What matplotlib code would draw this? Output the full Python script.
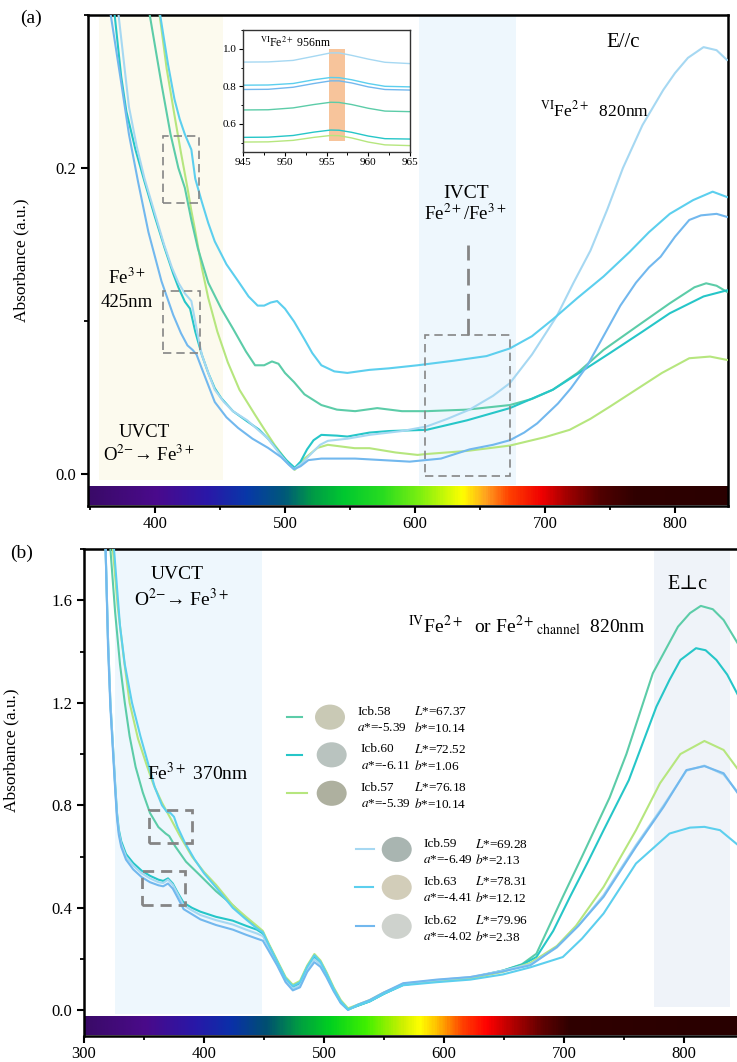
import numpy as np
import matplotlib
matplotlib.use("Agg")
import matplotlib.pyplot as plt
from matplotlib.colors import LinearSegmentedColormap
from matplotlib.patches import Ellipse, Rectangle
from matplotlib.ticker import MultipleLocator, FormatStrFormatter

plt.rcParams['font.family'] = ['Liberation Serif', 'DejaVu Serif']
plt.rcParams['mathtext.fontset'] = 'stix'

# ---------------------------------------------------------------- samples
samples = ['Icb.58', 'Icb.60', 'Icb.57', 'Icb.59', 'Icb.63', 'Icb.62']
lab_L = [67.37, 72.52, 76.18, 69.28, 78.31, 79.96]
lab_a = [-5.39, -6.11, -5.39, -6.49, -4.41, -4.02]
lab_b = [10.14, 1.06, 10.14, 2.13, 12.12, 2.38]
line_colors = {'Icb.58': '#5ccca8', 'Icb.60': '#26c6c8', 'Icb.57': '#b6e67e',
               'Icb.59': '#a6d8f2', 'Icb.63': '#5ccfee', 'Icb.62': '#72b8ee'}
swatch_colors = {'Icb.58': '#c9c9b5', 'Icb.60': '#b9c3bf', 'Icb.57': '#aeb09f',
                 'Icb.59': '#a9b5b1', 'Icb.63': '#d2cdb9', 'Icb.62': '#ced2cd'}

# ---------------------------------------------------------------- (a) E//c spectra
a_wl_62 = [360, 366, 374, 380, 387, 395, 405, 414, 420, 425, 429, 432, 436, 441, 446, 455, 464, 475,
           487, 497, 503, 507, 512, 518, 528, 540, 554, 575, 596, 620, 642, 660, 673, 684, 694, 710,
           720, 732, 745, 758, 770, 780, 789, 800, 811, 820, 832, 840]
a_ab_62 = [0.35, 0.30, 0.256, 0.222, 0.191, 0.158, 0.126, 0.104, 0.092, 0.084, 0.081, 0.078, 0.069,
           0.058, 0.047, 0.037, 0.030, 0.023, 0.017, 0.011, 0.006, 0.003, 0.005, 0.009, 0.010, 0.010,
           0.010, 0.009, 0.008, 0.010, 0.016, 0.019, 0.022, 0.027, 0.033, 0.046, 0.056, 0.070, 0.090,
           0.110, 0.125, 0.135, 0.142, 0.155, 0.166, 0.169, 0.170, 0.168]

a_wl_63 = [398, 404, 410, 415, 419, 423, 426, 428, 431, 436, 441, 446, 455, 464, 472, 479, 484, 489,
           494, 500, 507, 515, 521, 528, 538, 548, 565, 580, 602, 630, 655, 673, 690, 706, 725, 745,
           765, 780, 796, 814, 829, 840]
a_ab_63 = [0.34, 0.30, 0.268, 0.245, 0.232, 0.222, 0.216, 0.212, 0.193, 0.178, 0.164, 0.152, 0.137,
           0.126, 0.116, 0.110, 0.110, 0.112, 0.113, 0.108, 0.0996, 0.088, 0.079, 0.071, 0.067, 0.066,
           0.068, 0.069, 0.071, 0.074, 0.077, 0.082, 0.090, 0.101, 0.115, 0.129, 0.145, 0.158, 0.170,
           0.179, 0.1845, 0.181]

a_wl_58 = [390, 396, 405, 412, 418, 423, 428, 433, 441, 451, 460, 470, 477, 484, 490, 495, 500, 507,
           515, 528, 540, 554, 571, 590, 609, 640, 673, 690, 706, 725, 745, 770, 796, 815, 824, 832, 840]
a_ab_58 = [0.34, 0.30, 0.255, 0.222, 0.20, 0.187, 0.166, 0.1475, 0.125, 0.108, 0.095, 0.080, 0.071,
           0.071, 0.0735, 0.072, 0.066, 0.060, 0.052, 0.045, 0.042, 0.041, 0.043, 0.041, 0.041, 0.042,
           0.045, 0.049, 0.055, 0.066, 0.081, 0.096, 0.1115, 0.122, 0.1246, 0.123, 0.119]

a_wl_60 = [365, 369, 374, 378, 385, 392, 400, 407.5, 414, 418, 423, 427, 431, 436, 441, 446, 451, 460,
           471.5, 480, 487, 495, 501, 507.5, 512, 517, 522, 528, 540, 548, 565, 580, 609, 640, 673,
           706, 730, 750, 775, 796, 822, 840]
a_ab_60 = [0.36, 0.30, 0.26, 0.237, 0.212, 0.191, 0.168, 0.1475, 0.131, 0.122, 0.1126, 0.108, 0.093,
           0.078, 0.066, 0.056, 0.0495, 0.041, 0.034, 0.029, 0.023, 0.015, 0.009, 0.004, 0.008, 0.016,
           0.022, 0.0255, 0.025, 0.0244, 0.027, 0.028, 0.0288, 0.035, 0.043, 0.055, 0.068, 0.079,
           0.093, 0.105, 0.116, 0.12]

a_wl_59 = [366, 372, 380, 386, 392, 400, 407, 413, 418, 423, 428, 432, 436, 441, 446, 453, 460, 471,
           487, 497, 503, 507, 513, 520, 527, 533, 548, 565, 590, 609, 625, 642, 660, 673, 690, 709,
           722, 735, 748, 760, 775, 791, 800, 810, 822, 832, 840]
a_ab_59 = [0.36, 0.30, 0.24, 0.214, 0.193, 0.17, 0.15, 0.135, 0.125, 0.118, 0.113, 0.095, 0.078,
           0.066, 0.055, 0.047, 0.041, 0.035, 0.023, 0.012, 0.006, 0.003, 0.007, 0.013, 0.019, 0.0216,
           0.023, 0.0255, 0.028, 0.031, 0.036, 0.042, 0.051, 0.0593, 0.078, 0.103, 0.125, 0.146, 0.173,
           0.20, 0.228, 0.251, 0.262, 0.272, 0.279, 0.277, 0.2706]

a_wl_57 = [398, 403.6, 409, 415, 420, 425, 428, 430.5, 436, 441, 448, 456, 465, 477, 485, 492, 500,
           507.5, 515, 525, 533, 553.6, 565, 585, 602, 609, 640, 673, 700, 719, 735, 750, 770, 790,
           811, 827, 840]
a_ab_57 = [0.34, 0.30, 0.265, 0.2346, 0.21, 0.187, 0.172, 0.161, 0.135, 0.115, 0.093, 0.073, 0.055,
           0.0386, 0.028, 0.019, 0.010, 0.0026, 0.010, 0.017, 0.019, 0.0168, 0.0168, 0.014, 0.0124,
           0.013, 0.015, 0.0185, 0.024, 0.0288, 0.036, 0.044, 0.055, 0.066, 0.0756, 0.0767, 0.0745]

# ---------------------------------------------------------------- (a) inset, 945-965 nm
inset_wl = [945, 948, 951, 953.5, 955.5, 956.5, 958, 960, 962, 965]
inset_ab = {
    'Icb.59': [0.929, 0.930, 0.938, 0.960, 0.978, 0.978, 0.965, 0.945, 0.928, 0.921],
    'Icb.63': [0.806, 0.807, 0.815, 0.835, 0.847, 0.846, 0.835, 0.815, 0.800, 0.797],
    'Icb.62': [0.783, 0.784, 0.795, 0.815, 0.829, 0.829, 0.818, 0.797, 0.783, 0.780],
    'Icb.58': [0.674, 0.675, 0.685, 0.703, 0.715, 0.714, 0.703, 0.683, 0.668, 0.665],
    'Icb.60': [0.528, 0.529, 0.538, 0.556, 0.567, 0.566, 0.555, 0.535, 0.521, 0.519],
    'Icb.57': [0.503, 0.504, 0.512, 0.528, 0.538, 0.537, 0.525, 0.503, 0.488, 0.484],
}

# ---------------------------------------------------------------- (b) E⊥c spectra
b_wl_57 = [322, 324, 328, 333, 338, 345, 352, 358, 365, 372, 380, 390, 400, 410, 424, 435, 444, 449,
           454, 461, 468, 474, 480, 486, 492, 497, 502, 508, 514, 520, 528, 538, 550, 566, 594, 622,
           649, 672, 694, 710, 733, 760, 780, 797, 817, 833, 845]
b_ab_57 = [2.0, 1.80, 1.58, 1.38, 1.20, 1.06, 0.96, 0.88, 0.81, 0.75, 0.68, 0.60, 0.54, 0.49, 0.41,
           0.365, 0.33, 0.31, 0.26, 0.195, 0.13, 0.10, 0.115, 0.175, 0.22, 0.195, 0.15, 0.09, 0.04,
           0.008, 0.022, 0.04, 0.07, 0.10, 0.115, 0.125, 0.15, 0.185, 0.251, 0.33, 0.482, 0.703,
           0.886, 1.0, 1.051, 1.016, 0.94]

b_wl_63 = [322, 325, 330, 334, 340, 347, 353, 359, 365, 369, 372, 375, 378, 384, 392, 400, 410, 424,
           435, 444, 449, 454, 461, 468, 474, 480, 486, 492, 497, 502, 508, 514, 520, 528, 538, 550,
           566, 594, 622, 649, 672, 699, 715, 733, 760, 788, 805, 817, 830, 845]
b_ab_63 = [2.1, 1.80, 1.50, 1.35, 1.20, 1.07, 0.97, 0.87, 0.80, 0.775, 0.77, 0.755, 0.715, 0.655,
           0.59, 0.535, 0.48, 0.40, 0.355, 0.32, 0.305, 0.255, 0.19, 0.125, 0.095, 0.11, 0.17, 0.215,
           0.19, 0.145, 0.085, 0.035, 0.004, 0.02, 0.035, 0.065, 0.098, 0.11, 0.12, 0.14, 0.168,
           0.208, 0.28, 0.378, 0.573, 0.69, 0.713, 0.716, 0.703, 0.645]

b_wl_58 = [319, 322, 326, 330, 334, 338, 343, 349, 355, 362, 368, 371, 376, 385, 396, 410, 424, 435,
           444, 449, 454, 461, 468, 474, 480, 486, 492, 497, 502, 508, 514, 520, 528, 538, 550, 566,
           594, 622, 649, 665, 677, 699, 715, 727, 738, 752, 774, 795, 805, 814, 824, 833, 845]
b_ab_58 = [2.1, 1.80, 1.55, 1.35, 1.20, 1.07, 0.95, 0.85, 0.77, 0.715, 0.69, 0.68, 0.64, 0.58, 0.53,
           0.465, 0.41, 0.36, 0.325, 0.305, 0.255, 0.19, 0.125, 0.093, 0.108, 0.17, 0.21, 0.19, 0.145,
           0.085, 0.035, 0.004, 0.018, 0.035, 0.065, 0.10, 0.115, 0.127, 0.155, 0.18, 0.221, 0.443,
           0.60, 0.72, 0.83, 1.0, 1.315, 1.497, 1.55, 1.578, 1.565, 1.523, 1.43]

b_wl_60 = [316, 318, 320, 322, 324.5, 326, 327.5, 329, 331, 335, 341, 348, 355, 362, 366, 370, 374,
           378, 383, 390, 397, 410, 424, 435, 444, 449, 454, 461, 468, 474, 480, 486, 492, 497, 502,
           508, 514, 520, 528, 538, 550, 566, 594, 622, 649, 665, 677, 691, 705, 720, 733, 754, 777,
           788, 797, 810, 818, 827, 836, 845]
b_ab_60 = [2.1, 1.80, 1.45, 1.20, 1.0, 0.88, 0.77, 0.705, 0.66, 0.61, 0.575, 0.545, 0.525, 0.51,
           0.505, 0.515, 0.495, 0.46, 0.42, 0.40, 0.385, 0.365, 0.35, 0.33, 0.315, 0.30, 0.255, 0.19,
           0.125, 0.09, 0.102, 0.165, 0.205, 0.185, 0.14, 0.082, 0.032, 0.003, 0.018, 0.035, 0.065,
           0.10, 0.115, 0.127, 0.155, 0.178, 0.208, 0.31, 0.443, 0.58, 0.703, 0.898, 1.185, 1.29,
           1.367, 1.413, 1.405, 1.367, 1.31, 1.23]

b_wl_lower = [316, 318, 320, 322, 324.5, 326, 327.5, 329, 331, 335, 341, 348, 355, 362, 366, 370,
              374, 378, 383, 390, 397, 410, 424, 435, 444, 449, 454, 461, 468, 474, 480, 486, 492,
              497, 502, 508, 514, 520, 528, 538, 550, 566, 594, 622, 649, 672, 694, 712, 733, 760,
              783, 802, 817, 833, 845]
b_ab_59 = [2.1, 1.80, 1.45, 1.20, 1.0, 0.87, 0.76, 0.695, 0.65, 0.60, 0.565, 0.535, 0.515, 0.50,
           0.497, 0.51, 0.49, 0.455, 0.41, 0.39, 0.372, 0.352, 0.335, 0.315, 0.30, 0.29, 0.245, 0.185,
           0.12, 0.085, 0.098, 0.16, 0.20, 0.18, 0.138, 0.08, 0.03, 0.002, 0.02, 0.038, 0.068, 0.104,
           0.118, 0.13, 0.155, 0.18, 0.245, 0.33, 0.45, 0.645, 0.80, 0.935, 0.955, 0.92, 0.85]
b_ab_62 = [2.1, 1.80, 1.42, 1.18, 0.98, 0.86, 0.75, 0.685, 0.638, 0.588, 0.55, 0.52, 0.50, 0.488,
           0.484, 0.495, 0.475, 0.44, 0.395, 0.375, 0.355, 0.333, 0.315, 0.295, 0.28, 0.272, 0.232,
           0.175, 0.11, 0.078, 0.09, 0.15, 0.188, 0.17, 0.13, 0.075, 0.028, 0.002, 0.022, 0.04, 0.07,
           0.106, 0.12, 0.13, 0.152, 0.176, 0.247, 0.33, 0.443, 0.638, 0.794, 0.9375, 0.953, 0.925,
           0.846]

# ---------------------------------------------------------------- spectrum strips
strip_a = [(348.5, '#3a0a68'), (400, '#4a0a8c'), (440, '#2a18a8'), (470, '#0838a8'),
           (500, '#005a78'), (520, '#009848'), (545, '#00c830'), (575, '#28dc20'),
           (605, '#80f010'), (637, '#ffff00'), (655, '#ffa020'), (673, '#ff4000'),
           (698, '#f00000'), (718, '#a00000'), (744, '#500000'), (770, '#300000'),
           (840.8, '#2a0000')]
strip_b = [(300, '#3a0a68'), (350, '#4a0a8a'), (392, '#2818a8'), (422, '#0a30a8'),
           (452, '#005070'), (480, '#00a040'), (505, '#00d020'), (535, '#40f000'),
           (566, '#d0f000'), (580, '#ffff00'), (594, '#ffc000'), (616, '#ff4000'),
           (636, '#ff0000'), (663, '#a00000'), (682, '#600000'), (705, '#300000'),
           (850, '#280000')]

W, H = 737, 1062
fig = plt.figure(figsize=(W / 100, H / 100), dpi=100)


def px_axes(left, top, right, bottom):
    return fig.add_axes([left / W, 1 - bottom / H, (right - left) / W, (bottom - top) / H])


def spectrum_strip(ax, stops, y0, y1):
    x0, x1 = stops[0][0], stops[-1][0]
    cmap = LinearSegmentedColormap.from_list(
        'strip', [((w - x0) / (x1 - x0), c) for w, c in stops])
    ax.imshow(np.linspace(0, 1, 600)[None, :], extent=[x0, x1, y0, y1], aspect='auto',
              cmap=cmap, zorder=1, interpolation='bilinear')


def style_axes(ax):
    for s in ax.spines.values():
        s.set_linewidth(1.8)
    ax.tick_params(which='major', direction='out', length=5, width=1.5, labelsize=12,
                   top=False, right=False)
    ax.tick_params(which='minor', direction='out', length=3, width=1.3,
                   top=False, right=False)
    ax.tick_params(axis='x', pad=2)


def dashed_box(ax, x0, x1, y0, y1, lw, dashes):
    ax.add_patch(Rectangle((x0, y0), x1 - x0, y1 - y0, fill=False, ec='#858585', lw=lw,
                           ls=(0, dashes), zorder=4))


# ================================================================ panel (a)
axa = px_axes(88, 15, 728, 506)
axa.set_xlim(348.5, 840.8)
axa.set_ylim(-0.021, 0.30)
axa.fill_between([357, 452], -0.004, 0.30, color='#fcfaee', lw=0, zorder=0)
axa.fill_between([603, 677.5], -0.007, 0.30, color='#eef7fd', lw=0, zorder=0)
spectrum_strip(axa, strip_a, -0.0205, -0.0085)

for name, wl, ab in [('Icb.57', a_wl_57, a_ab_57), ('Icb.58', a_wl_58, a_ab_58),
                     ('Icb.60', a_wl_60, a_ab_60), ('Icb.59', a_wl_59, a_ab_59),
                     ('Icb.62', a_wl_62, a_ab_62), ('Icb.63', a_wl_63, a_ab_63)]:
    axa.plot(wl, ab, color=line_colors[name], lw=1.5, zorder=3, solid_joinstyle='round')

dashed_box(axa, 406.2, 433.8, 0.1769, 0.2211, 1.2, (5, 3))
dashed_box(axa, 406.2, 434.4, 0.0789, 0.1198, 1.2, (5, 3))
dashed_box(axa, 607.7, 673.0, -0.0015, 0.0908, 1.2, (5, 3))
axa.plot([641, 641], [0.0908, 0.1497], color='#858585', lw=2, ls=(0, (6, 3)), zorder=4)

axa.xaxis.set_major_locator(MultipleLocator(100))
axa.xaxis.set_minor_locator(MultipleLocator(50))
axa.yaxis.set_major_locator(MultipleLocator(0.2))
axa.yaxis.set_minor_locator(MultipleLocator(0.1))
axa.yaxis.set_major_formatter(FormatStrFormatter('%.1f'))
style_axes(axa)
axa.set_ylabel('Absorbance (a.u.)', fontsize=12.5)
axa.yaxis.set_label_coords(-0.091, 0.5)

axa.text(760, 0.282, 'E//c', fontsize=15, ha='center', va='center')
axa.text(696, 0.2377, r'$^{\mathrm{VI}}$Fe$^{2+}$  820nm', fontsize=12.5, ha='left', va='center')
axa.text(639, 0.1835, 'IVCT', fontsize=14, ha='center', va='center')
axa.text(639, 0.1700, r'Fe$^{2+}$/Fe$^{3+}$', fontsize=13.5, ha='center', va='center')
axa.text(378.5, 0.128, r'Fe$^{3+}$', fontsize=13.5, ha='center', va='center')
axa.text(378.5, 0.1123, '425nm', fontsize=13.5, ha='center', va='center')
axa.text(392, 0.0268, 'UVCT', fontsize=13.5, ha='center', va='center')
axa.text(395, 0.0124, r'O$^{2\mathrm{-}}$→ Fe$^{3+}$', fontsize=13.5, ha='center', va='center')
fig.text(31 / W, 1 - 18 / H, '(a)', fontsize=14, ha='center', va='center')

# inset: 945-965 nm detail
axi = px_axes(243, 30, 410, 152)
axi.set_xlim(945, 965)
axi.set_ylim(0.45, 1.1)
axi.add_patch(Rectangle((955.35, 0.507), 1.85, 0.493, color='#f7c49b', lw=0, zorder=1))
for name in ['Icb.59', 'Icb.63', 'Icb.62', 'Icb.58', 'Icb.60', 'Icb.57']:
    axi.plot(inset_wl, inset_ab[name], color=line_colors[name], lw=1.0, zorder=2)
axi.xaxis.set_major_locator(MultipleLocator(5))
axi.xaxis.set_minor_locator(MultipleLocator(2.5))
axi.yaxis.set_major_locator(MultipleLocator(0.2))
axi.yaxis.set_minor_locator(MultipleLocator(0.1))
axi.yaxis.set_major_formatter(FormatStrFormatter('%.1f'))
for s in axi.spines.values():
    s.set_linewidth(1.0)
    s.set_color('#333333')
axi.tick_params(which='major', direction='out', length=3, width=0.8, labelsize=8, pad=1.5)
axi.tick_params(which='minor', direction='out', length=1.8, width=0.7)
axi.text(947.0, 1.03, r'$^{\mathrm{VI}}$Fe$^{2+}$ 956nm', fontsize=8.5, ha='left', va='center')

# ================================================================ panel (b)
axb = px_axes(84, 549, 744, 1036)
axb.set_xlim(300, 850)
axb.set_ylim(-0.1, 1.8)
axb.fill_between([326, 448], -0.013, 1.8, color='#eef7fd', lw=0, zorder=0)
axb.fill_between([775, 838], 0.013, 1.8, color='#eff3f9', lw=0, zorder=0)
spectrum_strip(axb, strip_b, -0.098, -0.026)

for name, wl, ab in [('Icb.58', b_wl_58, b_ab_58), ('Icb.60', b_wl_60, b_ab_60),
                     ('Icb.57', b_wl_57, b_ab_57), ('Icb.59', b_wl_lower, b_ab_59),
                     ('Icb.62', b_wl_lower, b_ab_62), ('Icb.63', b_wl_63, b_ab_63)]:
    axb.plot(wl, ab, color=line_colors[name], lw=1.5, zorder=3, solid_joinstyle='round')

dashed_box(axb, 354.2, 389.7, 0.653, 0.781, 2.0, (4, 2.5))
dashed_box(axb, 348.6, 384.2, 0.413, 0.544, 2.0, (4, 2.5))

axb.xaxis.set_major_locator(MultipleLocator(100))
axb.xaxis.set_minor_locator(MultipleLocator(50))
axb.yaxis.set_major_locator(MultipleLocator(0.4))
axb.yaxis.set_minor_locator(MultipleLocator(0.2))
axb.yaxis.set_major_formatter(FormatStrFormatter('%.1f'))
style_axes(axb)
axb.set_ylabel('Absorbance (a.u.)', fontsize=12.5)
axb.yaxis.set_label_coords(-0.098, 0.587)

axb.text(377.5, 1.70, 'UVCT', fontsize=14, ha='center', va='center')
axb.text(381, 1.603, r'O$^{2\mathrm{-}}$→ Fe$^{3+}$', fontsize=14, ha='center', va='center')
axb.text(352.5, 0.9265, r'Fe$^{3+}$ 370nm', fontsize=14, ha='left', va='center')
axb.text(570, 1.50, r'$^{\mathrm{IV}}$Fe$^{2+}$  or Fe$^{2+}{}_{\mathrm{channel}}$  820nm',
         fontsize=14, ha='left', va='center')
axb.text(803, 1.661, 'E⊥c', fontsize=14.5, ha='center', va='center')
fig.text(22 / W, 1 - 553 / H, '(b)', fontsize=14, ha='center', va='center')

# sample key: line, colour swatch, CIELAB values
row_y = [1.144, 0.997, 0.847, 0.628, 0.480, 0.328]
line_x = [(469, 481.5), (469, 481.5), (469, 485.5), (527, 542), (526, 541), (527, 542)]
swatch_x = [505, 506.4, 506.4, 560.6, 560.6, 560.6]
text_x = [527.8, 530.8, 530.8, 582.8, 582.8, 582.8]
col2_x = [575, 575, 575, 625.8, 625.8, 625.8]
for i, name in enumerate(samples):
    y = row_y[i]
    axb.plot(line_x[i], [y, y], color=line_colors[name], lw=1.5, zorder=5)
    axb.add_patch(Ellipse((swatch_x[i], y), 25, 0.098, color=swatch_colors[name], lw=0, zorder=5))
    axb.text(text_x[i], y + 0.021, name, fontsize=9.5, ha='left', va='center', zorder=6)
    axb.text(col2_x[i], y + 0.021, r'$L$*=%.2f' % lab_L[i], fontsize=9.5, ha='left',
             va='center', zorder=6)
    axb.text(text_x[i], y - 0.042, r'$a$*=%.2f' % lab_a[i], fontsize=9.5, ha='left',
             va='center', zorder=6)
    axb.text(col2_x[i], y - 0.042, r'$b$*=%.2f' % lab_b[i], fontsize=9.5, ha='left',
             va='center', zorder=6)

fig.savefig('out.png', dpi=100)
